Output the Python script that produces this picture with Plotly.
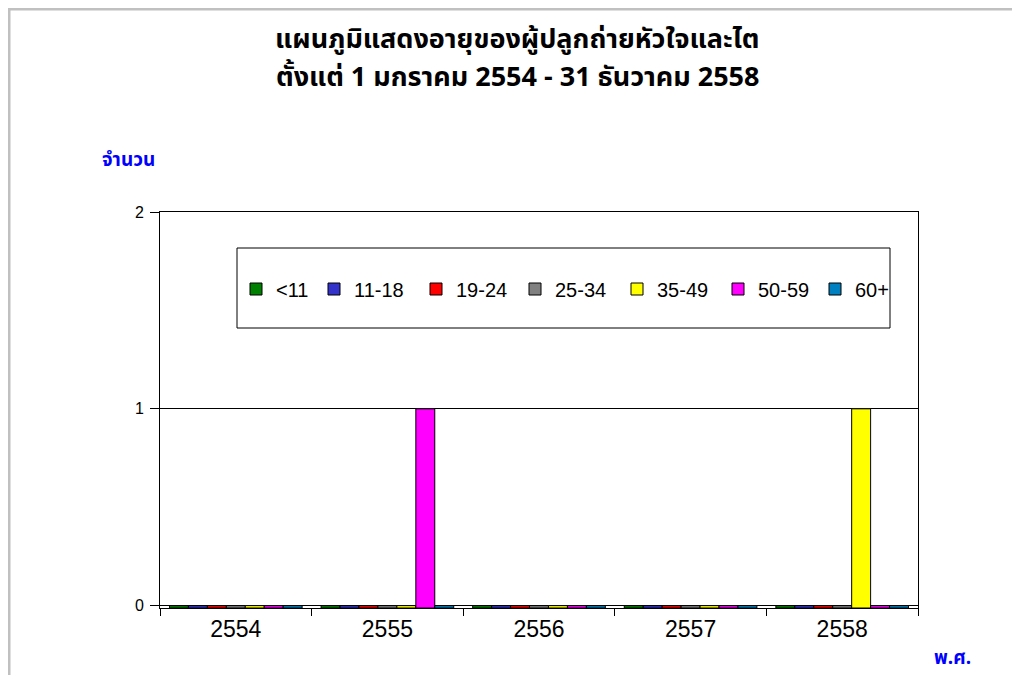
import plotly.graph_objects as go

years = ["2554", "2555", "2556", "2557", "2558"]
age_groups = ["<11", "11-18", "19-24", "25-34", "35-49", "50-59", "60+"]
v_lt11 = [0, 0, 0, 0, 0]
v_11_18 = [0, 0, 0, 0, 0]
v_19_24 = [0, 0, 0, 0, 0]
v_25_34 = [0, 0, 0, 0, 0]
v_35_49 = [0, 0, 0, 0, 1]
v_50_59 = [0, 1, 0, 0, 0]
v_60p = [0, 0, 0, 0, 0]
series = [v_lt11, v_11_18, v_19_24, v_25_34, v_35_49, v_50_59, v_60p]

colors = ["#008000", "#3333CC", "#FF0000", "#808080", "#FFFF00", "#FF00FF", "#0080C0"]
legend_widths = [33, 57, 54, 57, 56, 52, 40]

title_line1 = "แผนภูมิแสดงอายุของผู้ปลูกถ่ายหัวใจและไต"
title_line2 = "ตั้งแต่ 1 มกราคม 2554 - 31 ธันวาคม 2558"
y_title = "จำนวน"
x_title = "พ.ศ."

FLOOR = -0.012

fig = go.Figure()
for name, vals, col, lw in zip(age_groups, series, colors, legend_widths):
    fig.add_trace(go.Bar(
        x=years, y=[v - FLOOR for v in vals], base=FLOOR, name=name,
        marker=dict(color=col, line=dict(color="#000000", width=1)),
        legendwidth=lw,
    ))

# page offset (body margin) and plot area geometry in screen px
O = 8
L, R, T, B = 160, 918, 212, 608
W, H = 1020 - O, 675 - O
def px_x(x):
    return (x - L) / (R - L)
def px_y(y):
    return (B - y) / (B - T)

thai_font = "Tahoma, Noto Sans Thai, Noto Sans Thai Looped, sans-serif"

fig.update_layout(
    width=W, height=H,
    margin=dict(l=L - O, r=(W + O) - R, t=T - O, b=(H + O) - B, autoexpand=False),
    paper_bgcolor="white", plot_bgcolor="white",
    barmode="group", bargap=0.125, bargroupgap=0,
    font=dict(family="Liberation Sans, Arial, sans-serif", color="#000000"),
    showlegend=True,
    legend=dict(orientation="h", xref="paper", yref="paper",
                x=px_x(236), xanchor="left", y=px_y(289), yanchor="middle",
                bgcolor="rgba(0,0,0,0)", borderwidth=0,
                font=dict(size=20, family="Liberation Sans, Arial, sans-serif"),
                traceorder="normal"),
    xaxis=dict(type="category", tickson="boundaries", ticks="outside", ticklen=7,
               tickcolor="#000000", showline=True, linecolor="#000000", linewidth=1,
               mirror=True, showgrid=False,
               tickfont=dict(size=23)),
    yaxis=dict(range=[FLOOR, 2], tickvals=[0, 1, 2], ticks="outside", ticklen=9,
               ticklabelstandoff=3,
               tickcolor="#000000", showline=True, linecolor="#000000", linewidth=1,
               mirror=True, showgrid=True, gridcolor="#000000", gridwidth=1,
               zeroline=False, tickfont=dict(size=16)),
    shapes=[
        dict(type="rect", xref="paper", yref="paper",
             x0=px_x(237), x1=px_x(890), y0=px_y(328), y1=px_y(248),
             line=dict(color="#000000", width=1), fillcolor="rgba(0,0,0,0)"),
        dict(type="line", xref="paper", yref="paper",
             x0=px_x(7), x1=px_x(1030), y0=px_y(9), y1=px_y(9),
             line=dict(color="#C0C0C0", width=3)),
        dict(type="line", xref="paper", yref="paper",
             x0=px_x(9), x1=px_x(9), y0=px_y(7), y1=px_y(690),
             line=dict(color="#C0C0C0", width=3)),
    ],
    annotations=[
        dict(text="<b>" + title_line1 + "</b>", xref="paper", yref="paper",
             x=px_x(517), y=px_y(39), showarrow=False, xanchor="center", yanchor="middle",
             font=dict(size=27, color="#000000", family=thai_font)),
        dict(text="<b>" + title_line2 + "</b>", xref="paper", yref="paper",
             x=px_x(517), y=px_y(77), showarrow=False, xanchor="center", yanchor="middle",
             font=dict(size=27, color="#000000", family=thai_font)),
        dict(text="<b>" + y_title + "</b>", xref="paper", yref="paper",
             x=px_x(128), y=px_y(160), showarrow=False, xanchor="center", yanchor="middle",
             font=dict(size=19, color="#0000FF", family=thai_font)),
        dict(text="<b>" + x_title + "</b>", xref="paper", yref="paper",
             x=px_x(952), y=px_y(658), showarrow=False, xanchor="center", yanchor="middle",
             font=dict(size=19, color="#0000FF", family=thai_font)),
    ],
)

fig.write_html("out.html")
